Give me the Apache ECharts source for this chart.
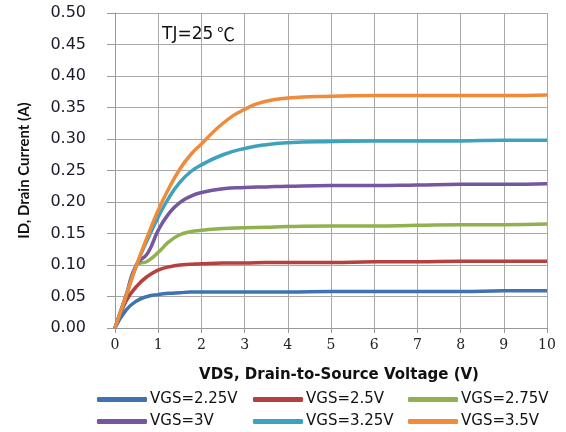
<!DOCTYPE html>
<html>
<head>
<meta charset="utf-8">
<script src="https://cdn.jsdelivr.net/npm/echarts@6/dist/echarts.min.js"></script>
<style>
html,body{margin:0;padding:0;background:#fff;}
#main{width:566px;height:432px;}
</style>
</head>
<body>
<div id="main"></div>
<script>
// VDS sample points (V)
var vds = [0, 0.25, 0.5, 0.75, 1, 1.25, 1.5, 1.75, 2, 2.5, 3, 3.5, 4, 5, 6, 7, 8, 9, 10];
// ID (A) per gate voltage
var id225 = [0, 0.028, 0.043, 0.050, 0.053, 0.055, 0.056, 0.057, 0.057, 0.057, 0.057, 0.057, 0.057, 0.058, 0.058, 0.058, 0.058, 0.059, 0.059];
var id250 = [0, 0.042, 0.066, 0.082, 0.092, 0.097, 0.100, 0.101, 0.102, 0.103, 0.103, 0.104, 0.104, 0.104, 0.105, 0.105, 0.106, 0.106, 0.106];
var id275 = [0, 0.050, 0.099, 0.106, 0.120, 0.137, 0.148, 0.153, 0.155, 0.158, 0.159, 0.160, 0.161, 0.162, 0.162, 0.163, 0.164, 0.164, 0.165];
var id300 = [0, 0.050, 0.101, 0.118, 0.155, 0.182, 0.199, 0.209, 0.215, 0.221, 0.223, 0.224, 0.225, 0.226, 0.226, 0.227, 0.228, 0.228, 0.229];
var id325 = [0, 0.050, 0.100, 0.140, 0.176, 0.207, 0.231, 0.248, 0.259, 0.275, 0.285, 0.291, 0.294, 0.296, 0.297, 0.297, 0.297, 0.298, 0.298];
var id350 = [0, 0.050, 0.100, 0.145, 0.187, 0.222, 0.252, 0.275, 0.292, 0.325, 0.347, 0.360, 0.365, 0.368, 0.369, 0.369, 0.369, 0.369, 0.370];

var names = ['VGS=2.25V', 'VGS=2.5V', 'VGS=2.75V', 'VGS=3V', 'VGS=3.25V', 'VGS=3.5V'];
var colors = ['#3f72b0', '#b5403d', '#8fb24e', '#7556a0', '#3fa2bd', '#ef8b3b'];
var allData = [id225, id250, id275, id300, id325, id350];

var series = [];
for (var i = 0; i < names.length; i++) {
	var pts = [];
	for (var j = 0; j < vds.length; j++) {
		pts.push([vds[j], allData[i][j]]);
	}
	series.push({
		name: names[i],
		type: 'line',
		data: pts,
		showSymbol: false,
		smooth: true,
		color: colors[i],
		lineStyle: { width: 3.5, color: colors[i] }
	});
}

// legend placed as 3 columns x 2 rows
var legPos = [[97, 392], [253, 392], [408, 392], [97, 414], [253, 414], [408, 414]];
var legends = [];
for (var k = 0; k < names.length; k++) {
	legends.push({
		data: [names[k]],
		left: legPos[k][0],
		top: legPos[k][1],
		padding: 0,
		icon: 'roundRect',
		itemWidth: 50,
		itemHeight: 5,
		textStyle: { fontFamily: 'DejaVu Sans', fontSize: 15, color: '#111', padding: [0, 0, 0, -2] }
	});
}

var myChart = echarts.init(document.getElementById('main'), null, { renderer: 'canvas' });
var option = {
	backgroundColor: '#fff',
	animation: false,
	grid: { left: 115, right: 19, top: 13, bottom: 104 },
	legend: legends,
	graphic: [{
		type: 'text',
		left: 162,
		top: 26,
		style: { text: 'TJ=25', font: '17px "DejaVu Sans"', fill: '#111' }
	}, {
		type: 'text',
		left: 217,
		top: 25,
		style: { text: '\u2103', font: '18px "Noto Sans CJK SC"', fill: '#111' }
	}],
	xAxis: {
		type: 'value',
		min: 0,
		max: 10,
		interval: 1,
		name: 'VDS, Drain-to-Source Voltage (V)',
		nameLocation: 'middle',
		nameGap: 40,
		nameTextStyle: { fontFamily: 'DejaVu Sans', fontWeight: 'bold', fontSize: 15, color: '#111', padding: [0, 0, 0, 16] },
		axisLine: { lineStyle: { color: '#999', width: 1 } },
		axisTick: { show: true, length: 5, lineStyle: { color: '#999' } },
		axisLabel: { fontFamily: 'DejaVu Serif', fontSize: 14, color: '#222', margin: 10 },
		splitLine: { show: true, lineStyle: { color: '#a8a8a8', width: 1 } }
	},
	yAxis: {
		type: 'value',
		min: 0,
		max: 0.5,
		interval: 0.05,
		name: 'ID, Drain Current (A)',
		nameLocation: 'middle',
		nameGap: 83,
		nameTextStyle: { fontFamily: 'Lato', fontWeight: 'bold', fontSize: 15, color: '#111' },
		axisLine: { show: true, lineStyle: { color: '#999', width: 1 } },
		axisTick: { show: true, length: 8, lineStyle: { color: '#999' } },
		axisLabel: {
			fontFamily: 'DejaVu Sans', fontSize: 16, color: '#1a1a2a', margin: 29,
			formatter: function (v) { return v.toFixed(2); }
		},
		splitLine: { show: true, lineStyle: { color: '#a8a8a8', width: 1 } }
	},
	series: series
};
myChart.setOption(option);
</script>
</body>
</html>
